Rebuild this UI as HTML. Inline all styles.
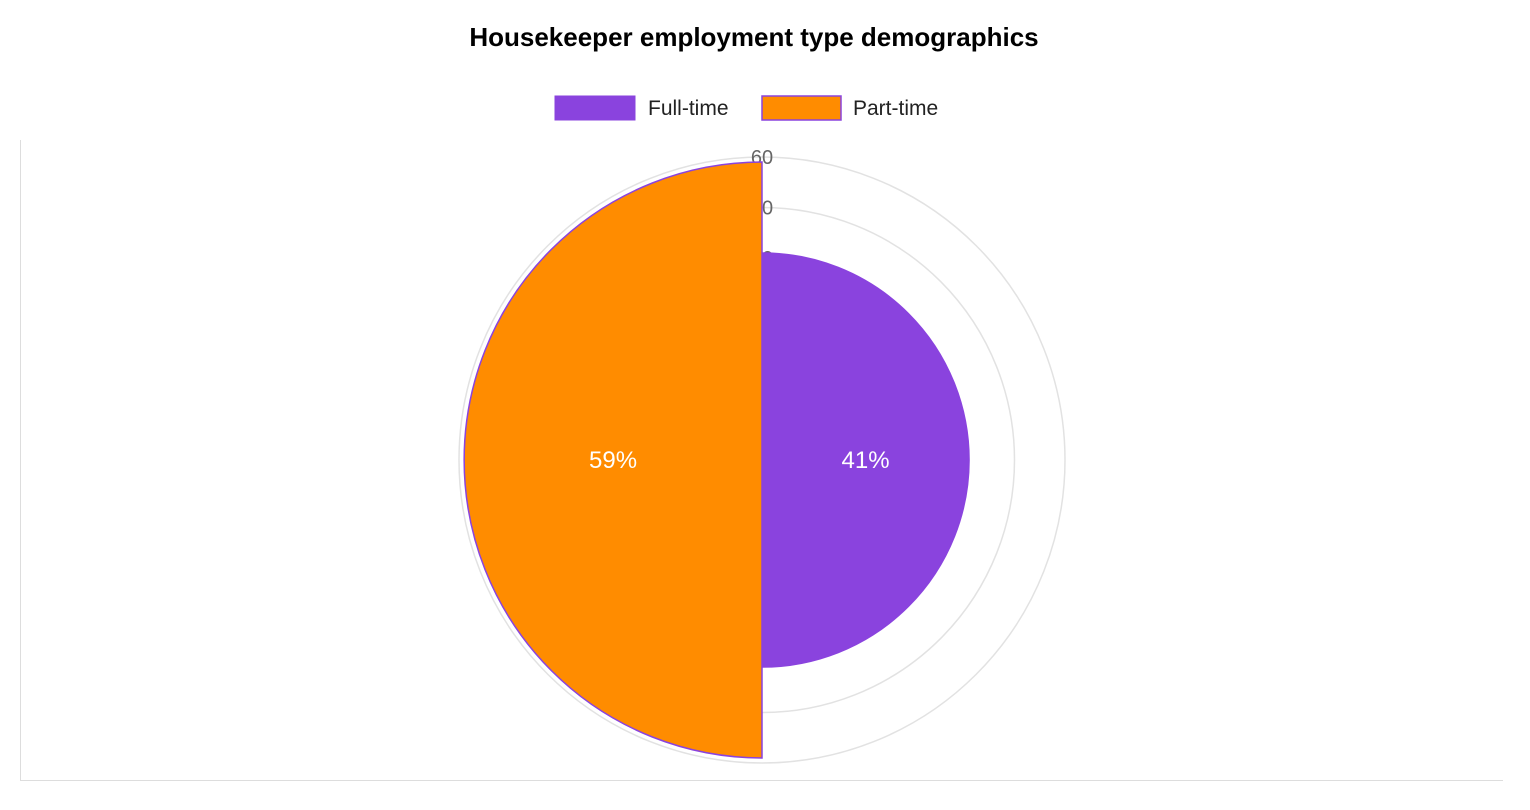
<!DOCTYPE html>
<html><head><meta charset="utf-8"><style>
body{margin:0;background:#fff;font-family:"Liberation Sans",Arial,sans-serif}
svg{display:block}
</style></head><body>
<svg id="chart" width="1530" height="810">
<text x="754" y="46" text-anchor="middle" font-size="26" font-weight="bold" fill="#000">Housekeeper employment type demographics</text>
<g>
<g><rect x="555" y="96" width="80" height="24" fill="#8a43de" stroke="#8a43de"/><text x="648" y="115" font-size="21" fill="#222">Full-time</text></g>
<g><rect x="762" y="96" width="79" height="24" fill="#ff8c00" stroke="#8a43de" stroke-width="1.5"/><text x="853" y="115" font-size="21" fill="#222">Part-time</text></g>
</g>
<line x1="20.5" y1="140" x2="20.5" y2="780" stroke="#ddd"/>
<line x1="20" y1="780.5" x2="1503" y2="780.5" stroke="#ddd"/>
<g id="grid"></g>
<g id="slices"></g>
<g id="labels"></g>
</svg>
<script>
const categories=["Full-time","Part-time"];
const values=[41,59];
const colors=["#8a43de","#ff8c00"];
const ticks=[10,20,30,40,50,60];
const cx=762,cy=460,rMax=303,vMax=60;
const ns="http://www.w3.org/2000/svg";
function r(v){return v/vMax*rMax;}
const grid=document.getElementById('grid');
ticks.forEach(t=>{
  const c=document.createElementNS(ns,'circle');
  c.setAttribute('cx',cx);c.setAttribute('cy',cy);c.setAttribute('r',r(t));
  c.setAttribute('fill','none');c.setAttribute('stroke','#e2e2e2');c.setAttribute('stroke-width','1.5');
  
  
  grid.appendChild(c);
  const tx=document.createElementNS(ns,'text');
  tx.setAttribute('x',cx);tx.setAttribute('y',cy-r(t)+7);
  tx.setAttribute('text-anchor','middle');tx.setAttribute('font-size','20');tx.setAttribute('fill','#666');
  tx.textContent=t;
  
  
  grid.appendChild(tx);
});
const slices=document.getElementById('slices'),labels=document.getElementById('labels');
const n=values.length,step=2*Math.PI/n;
values.forEach((v,i)=>{
  const a0=-Math.PI/2+i*step,a1=a0+step,rr=r(v);
  const x0=cx+rr*Math.cos(a0),y0=cy+rr*Math.sin(a0),x1=cx+rr*Math.cos(a1),y1=cy+rr*Math.sin(a1);
  const p=document.createElementNS(ns,'path');
  p.setAttribute('d',`M${cx},${cy}L${x0},${y0}A${rr},${rr} 0 0 1 ${x1},${y1}Z`);
  p.setAttribute('fill',colors[i]);p.setAttribute('stroke','#8a43de');p.setAttribute('stroke-width','1.5');
  
  
  slices.appendChild(p);
  const am=(a0+a1)/2,lr=rr/2;
  const t=document.createElementNS(ns,'text');
  t.setAttribute('x',cx+lr*Math.cos(am));t.setAttribute('y',cy+lr*Math.sin(am)+8);
  t.setAttribute('text-anchor','middle');t.setAttribute('font-size','24');t.setAttribute('fill','#fff');
  t.textContent=v+'%';
  
  
  labels.appendChild(t);
});
</script>
</body></html>
